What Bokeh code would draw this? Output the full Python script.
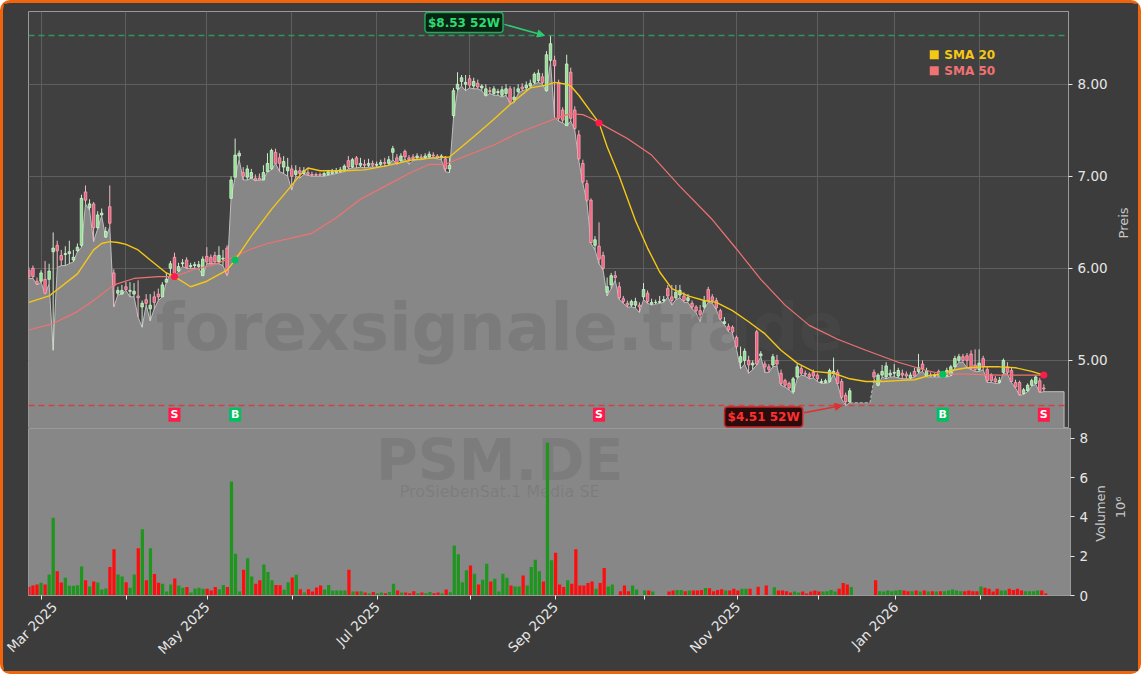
import math
import numpy as np
import pandas as pd
from bokeh.plotting import figure
from bokeh.layouts import column, row
from bokeh.models import (Range1d, FixedTicker, Span, Label, Arrow, NormalHead, Grid,
                          NumeralTickFormatter, ColumnDataSource)
from bokeh.core.properties import value
from bokeh.embed import file_html
from bokeh.resources import INLINE

# ---------------- data (trading-session index, 0 = 3 Mar 2025) ----------------
FIRST_SESSION = -3
N = None
opens = [5.98, 6.00, 5.86, 5.86, 5.88, 5.88, 6.18, 6.25, 6.14, 6.15,
         6.16, 6.09, 6.19, 6.25, 6.83, 6.66, 6.70, 6.44, 6.58, 6.34,
         6.67, 5.95, 5.73, 5.72, 5.80, 5.75, 5.72, 5.70, 5.58, 5.66,
         5.56, 5.69, 5.72, 5.69, 5.85, 6.00, 6.12, 5.97, 6.05, 6.09,
         6.02, 6.03, 6.02, 5.92, 6.13, 6.12, 6.14, 6.07, 6.10, 6.22,
         6.76, 6.99, 7.22, 7.04, 6.99, 6.98, 6.98, 6.98, 6.96, 7.05,
         7.08, 7.26, 7.20, 7.10, 7.06, 7.08, 7.02, 7.06, 7.03, 7.04,
         7.02, 7.02, 7.02, 7.01, 7.02, 7.03, 7.04, 7.05, 7.06, 7.17,
         7.10, 7.20, 7.12, 7.13, 7.12, 7.14, 7.12, 7.13, 7.15, 7.14,
         7.26, 7.20, 7.17, 7.27, 7.20, 7.21, 7.20, 7.21, 7.20, 7.21,
         7.23, 7.22, 7.20, 7.19, 7.08, 7.66, 7.95, 8.03, 8.00, 8.06,
         7.98, 8.01, 7.96, 7.88, 7.93, 7.90, 7.91, 7.88, 7.90, 7.95,
         7.83, 7.92, 7.97, 7.96, 7.98, 8.02, 8.04, 8.08, 7.93, 8.26,
         8.26, 8.02, 7.72, 7.55, 8.13, 7.72, 7.45, 7.14, 6.92, 6.74,
         6.25, 6.24, 6.14, 5.74, 5.82, 5.92, 5.80, 5.67, 5.62, 5.60,
         5.60, 5.60, 5.69, 5.73, 5.61, 5.63, 5.63, 5.65, 5.78, 5.69,
         5.68, 5.71, 5.70, 5.65, 5.62, 5.58, 5.54, 5.58, 5.77, 5.69,
         5.65, 5.54, 5.40, 5.37, 5.36, 5.25, 4.98, 5.00, 5.00, 4.95,
         5.31, 5.05, 4.96, 4.93, 4.95, 5.00, 4.86, 4.78, 4.75, 4.66,
         4.82, 4.91, 4.86, 4.85, 4.87, 4.84, 4.76, 4.76, 4.77, 4.86,
         4.87, 4.77, 4.62, 4.55, N, N, N, N, N, 4.87,
         4.73, 4.84, 4.82, 4.84, 4.86, 4.83, 4.86, 4.85, 4.81, 4.88,
         4.88, 4.96, 4.83, 4.84, 4.83, 4.88, 4.84, 4.83, 4.84, 4.93,
         5.00, 5.04, 5.05, 5.07, 4.95, 4.90, 5.02, 4.90, 4.84, 4.80,
         4.76, 4.87, 4.93, 4.89, 4.76, 4.76, 4.64, 4.67, 4.73, 4.75,
         4.78, 4.70, N, N, N, N, N]
highs = [6.01, 6.03, 5.90, 5.98, 6.08, 6.05, 6.39, 6.30, 6.20, 6.24,
         6.30, 6.20, 6.27, 6.80, 6.90, 6.75, 6.72, 6.62, 6.65, 6.45,
         6.90, 5.99, 5.80, 5.82, 5.85, 5.85, 5.84, 5.87, 5.65, 5.72,
         5.72, 5.75, 5.78, 5.85, 5.95, 6.08, 6.17, 6.06, 6.10, 6.12,
         6.06, 6.07, 6.08, 6.13, 6.23, 6.15, 6.18, 6.24, 6.20, 6.25,
         7.00, 7.41, 7.28, 7.10, 7.12, 7.08, 7.02, 7.03, 7.12, 7.25,
         7.30, 7.30, 7.25, 7.22, 7.20, 7.12, 7.12, 7.10, 7.10, 7.08,
         7.05, 7.04, 7.04, 7.05, 7.07, 7.08, 7.09, 7.10, 7.13, 7.22,
         7.20, 7.22, 7.20, 7.18, 7.19, 7.17, 7.16, 7.18, 7.20, 7.22,
         7.33, 7.24, 7.25, 7.29, 7.23, 7.24, 7.25, 7.24, 7.25, 7.27,
         7.26, 7.24, 7.24, 7.22, 7.20, 7.96, 8.13, 8.10, 8.10, 8.10,
         8.07, 8.05, 8.00, 8.00, 7.97, 7.98, 7.95, 7.98, 8.00, 7.98,
         7.97, 8.00, 8.01, 8.03, 8.05, 8.13, 8.16, 8.12, 8.36, 8.53,
         8.31, 8.05, 7.75, 8.32, 8.18, 7.76, 7.50, 7.18, 6.96, 6.76,
         6.35, 6.50, 6.18, 5.90, 5.95, 5.97, 5.85, 5.70, 5.65, 5.66,
         5.68, 5.63, 5.84, 5.76, 5.67, 5.66, 5.70, 5.70, 5.82, 5.82,
         5.82, 5.82, 5.74, 5.72, 5.65, 5.60, 5.60, 5.70, 5.80, 5.72,
         5.68, 5.56, 5.47, 5.40, 5.38, 5.27, 5.15, 5.13, 5.05, 5.00,
         5.33, 5.10, 4.99, 4.96, 5.07, 5.06, 4.90, 4.80, 4.77, 4.82,
         4.96, 4.94, 4.89, 4.87, 4.90, 4.86, 4.80, 4.80, 4.91, 5.03,
         4.90, 4.80, 4.65, 4.70, N, N, N, N, N, 4.90,
         4.86, 4.95, 4.98, 4.90, 4.96, 4.92, 4.90, 4.88, 4.87, 4.92,
         5.07, 5.00, 4.92, 4.87, 4.86, 4.90, 4.88, 4.92, 4.95, 5.05,
         5.07, 5.07, 5.08, 5.11, 5.12, 5.12, 5.05, 4.93, 4.86, 4.83,
         4.82, 5.02, 4.98, 4.92, 4.79, 4.78, 4.70, 4.75, 4.80, 4.84,
         4.81, 4.74, N, N, N, N, N]
lows = [5.89, 5.89, 5.82, 5.85, 5.72, 5.83, 5.11, 6.01, 6.03, 6.03,
        6.05, 6.07, 6.18, 6.23, 6.70, 6.63, 6.29, 6.43, 6.57, 6.33,
        6.45, 5.58, 5.71, 5.72, 5.76, 5.69, 5.69, 5.47, 5.36, 5.60,
        5.43, 5.56, 5.65, 5.69, 5.85, 5.94, 5.92, 5.96, 6.02, 6.00,
        6.00, 6.00, 6.00, 5.92, 6.05, 6.05, 6.05, 6.05, 6.03, 5.92,
        6.76, 6.99, 7.18, 6.96, 6.96, 6.98, 6.95, 6.96, 6.96, 7.05,
        7.07, 7.14, 7.05, 7.03, 7.00, 6.85, 7.00, 6.98, 7.02, 7.01,
        7.00, 7.00, 7.00, 7.00, 7.01, 7.02, 7.03, 7.04, 7.05, 7.08,
        7.09, 7.09, 7.10, 7.09, 7.10, 7.10, 7.10, 7.11, 7.11, 7.12,
        7.18, 7.13, 7.15, 7.19, 7.13, 7.17, 7.18, 7.18, 7.19, 7.20,
        7.20, 7.19, 7.18, 7.05, 7.04, 7.63, 7.93, 7.98, 7.93, 7.96,
        7.95, 7.95, 7.93, 7.87, 7.90, 7.88, 7.88, 7.86, 7.88, 7.79,
        7.80, 7.90, 7.93, 7.94, 7.96, 8.00, 8.02, 8.00, 7.92, 8.24,
        7.64, 7.60, 7.58, 7.55, 7.60, 7.50, 7.17, 6.92, 6.72, 6.27,
        6.20, 6.05, 5.98, 5.70, 5.78, 5.87, 5.66, 5.62, 5.58, 5.58,
        5.57, 5.52, 5.66, 5.62, 5.60, 5.61, 5.62, 5.63, 5.69, 5.60,
        5.66, 5.68, 5.63, 5.63, 5.56, 5.52, 5.42, 5.56, 5.63, 5.62,
        5.55, 5.44, 5.39, 5.31, 5.29, 5.12, 4.91, 4.96, 4.86, 4.90,
        4.95, 5.04, 4.87, 4.87, 4.93, 4.94, 4.73, 4.71, 4.68, 4.64,
        4.80, 4.84, 4.83, 4.80, 4.81, 4.77, 4.75, 4.75, 4.76, 4.85,
        4.74, 4.58, 4.51, 4.54, N, N, N, N, N, 4.80,
        4.72, 4.82, 4.80, 4.82, 4.82, 4.81, 4.80, 4.80, 4.80, 4.82,
        4.86, 4.88, 4.82, 4.82, 4.82, 4.82, 4.82, 4.82, 4.83, 4.92,
        4.98, 4.98, 4.92, 4.90, 4.88, 4.88, 4.90, 4.76, 4.76, 4.75,
        4.75, 4.86, 4.85, 4.76, 4.70, 4.62, 4.63, 4.66, 4.72, 4.74,
        4.65, 4.66, N, N, N, N, N]
closes = [5.91, 5.91, 5.83, 5.95, 5.73, 5.97, 6.22, 6.19, 6.09, 6.16,
          6.18, 6.12, 6.23, 6.76, 6.74, 6.70, 6.44, 6.58, 6.60, 6.40,
          6.49, 5.81, 5.76, 5.76, 5.77, 5.76, 5.75, 5.68, 5.62, 5.62,
          5.60, 5.63, 5.69, 5.82, 5.88, 6.05, 5.94, 6.02, 6.06, 6.01,
          6.03, 6.04, 6.04, 6.10, 6.07, 6.05, 6.07, 6.14, 6.11, 5.94,
          6.96, 7.23, 7.25, 7.00, 7.08, 7.04, 6.96, 6.96, 7.04, 7.14,
          7.28, 7.14, 7.14, 7.16, 7.10, 7.00, 7.06, 7.03, 7.06, 7.02,
          7.01, 7.01, 7.01, 7.03, 7.05, 7.05, 7.06, 7.07, 7.11, 7.10,
          7.18, 7.13, 7.14, 7.12, 7.14, 7.12, 7.13, 7.15, 7.14, 7.18,
          7.30, 7.15, 7.22, 7.21, 7.18, 7.19, 7.22, 7.20, 7.22, 7.24,
          7.22, 7.21, 7.22, 7.08, 7.12, 7.93, 8.00, 8.07, 8.02, 7.99,
          8.03, 7.97, 7.98, 7.95, 7.92, 7.95, 7.92, 7.94, 7.95, 7.81,
          7.86, 7.95, 7.95, 7.99, 8.01, 8.11, 8.12, 8.02, 8.32, 8.44,
          8.20, 7.63, 7.61, 8.22, 7.63, 7.52, 7.19, 6.94, 6.74, 6.28,
          6.31, 6.10, 6.00, 5.80, 5.92, 5.90, 5.68, 5.64, 5.60, 5.64,
          5.64, 5.58, 5.77, 5.64, 5.63, 5.63, 5.64, 5.66, 5.70, 5.65,
          5.74, 5.76, 5.65, 5.68, 5.58, 5.54, 5.50, 5.64, 5.65, 5.65,
          5.57, 5.45, 5.42, 5.33, 5.31, 5.15, 5.04, 5.10, 4.95, 4.97,
          4.96, 5.07, 4.93, 4.90, 5.04, 4.96, 4.75, 4.73, 4.70, 4.80,
          4.93, 4.86, 4.85, 4.82, 4.83, 4.80, 4.77, 4.78, 4.89, 4.88,
          4.75, 4.60, 4.55, 4.67, N, N, N, N, N, 4.82,
          4.84, 4.88, 4.94, 4.86, 4.87, 4.89, 4.84, 4.83, 4.84, 4.83,
          4.92, 4.91, 4.89, 4.83, 4.84, 4.83, 4.86, 4.89, 4.93, 5.02,
          5.04, 5.00, 5.00, 4.91, 4.90, 4.97, 4.93, 4.78, 4.78, 4.77,
          4.78, 5.00, 4.87, 4.77, 4.71, 4.63, 4.68, 4.73, 4.78, 4.82,
          4.66, 4.69, N, N, N, N, N]
volume_mio = [0.45, 0.51, 0.56, 0.65, 0.56, 1.07, 3.96, 1.24, 0.66, 0.90,
              0.50, 0.50, 0.52, 1.48, 0.77, 0.46, 0.71, 0.66, 0.30, 0.36,
              1.45, 2.35, 1.07, 0.97, 0.68, 0.39, 1.07, 2.40, 3.37, 0.77,
              2.40, 1.10, 0.65, 0.60, 0.20, 0.56, 0.87, 0.51, 0.39, 0.43,
              0.15, 0.36, 0.39, 0.34, 0.34, 0.26, 0.43, 0.32, 0.54, 0.43,
              5.80, 2.13, 0.20, 1.31, 1.89, 0.97, 0.60, 0.77, 1.58, 1.20,
              0.77, 0.54, 0.52, 0.29, 0.68, 0.92, 1.06, 0.32, 0.15, 0.32,
              0.20, 0.41, 0.51, 0.30, 0.53, 0.26, 0.26, 0.26, 0.26, 1.31,
              0.20, 0.20, 0.22, 0.15, 0.12, 0.18, 0.12, 0.15, 0.12, 0.18,
              0.60, 0.26, 0.15, 0.15, 0.12, 0.22, 0.12, 0.15, 0.12, 0.18,
              0.12, 0.15, 0.12, 0.30, 0.17, 2.55, 2.10, 0.68, 1.28, 1.53,
              1.11, 0.56, 0.80, 1.62, 0.71, 0.85, 0.20, 1.11, 0.90, 0.51,
              0.46, 0.46, 1.02, 0.51, 1.45, 1.82, 1.23, 0.71, 7.77, 1.79,
              2.18, 0.56, 0.43, 0.77, 0.60, 2.35, 0.51, 0.51, 0.63, 0.71,
              0.34, 0.63, 1.40, 0.46, 0.56, 0.00, 0.22, 0.51, 0.22, 0.51,
              0.30, 0.00, 0.25, 0.25, 0.20, 0.00, 0.00, 0.00, 0.20, 0.25,
              0.28, 0.28, 0.22, 0.25, 0.25, 0.25, 0.28, 0.38, 0.37, 0.22,
              0.28, 0.32, 0.25, 0.25, 0.34, 0.25, 0.34, 0.34, 0.34, 0.00,
              0.45, 0.00, 0.51, 0.00, 0.42, 0.25, 0.25, 0.22, 0.15, 0.20,
              0.15, 0.20, 0.10, 0.20, 0.25, 0.20, 0.20, 0.22, 0.28, 0.20,
              0.34, 0.64, 0.56, 0.43, N, N, N, N, N, 0.77,
              0.22, 0.20, 0.25, 0.22, 0.25, 0.28, 0.25, 0.22, 0.22, 0.25,
              0.20, 0.25, 0.20, 0.22, 0.20, 0.22, 0.22, 0.25, 0.30, 0.25,
              0.22, 0.22, 0.25, 0.22, 0.22, 0.46, 0.39, 0.34, 0.20, 0.34,
              0.25, 0.25, 0.34, 0.28, 0.34, 0.25, 0.22, 0.22, 0.22, 0.25,
              0.25, 0.10, N, N, N, N, N]

# moving averages (session index, value)
sma20_t = [-3, 2, 9, 13, 15, 17, 19, 21, 24, 27, 31, 33, 37, 41, 46, 48, 52, 57, 61, 64,
           66, 69, 75, 80, 85, 92, 97, 101, 107, 112, 116, 121, 125, 127, 130, 131, 133,
           136, 138, 140, 143, 147, 150, 153, 156, 160, 164, 167, 171, 175, 179, 183, 187,
           191, 196, 200, 204, 208, 212, 216, 220, 223, 225, 229, 233, 237, 241, 245, 248]
sma20_v = [5.63, 5.70, 5.94, 6.20, 6.27, 6.29, 6.28, 6.26, 6.20, 6.09, 5.95, 5.91, 5.80,
           5.86, 5.98, 6.09, 6.35, 6.64, 6.85, 7.01, 7.09, 7.06, 7.06, 7.07, 7.11, 7.18,
           7.20, 7.21, 7.43, 7.62, 7.78, 7.96, 7.99, 8.02, 8.00, 7.98, 7.88, 7.70, 7.58,
           7.32, 7.00, 6.52, 6.22, 5.96, 5.78, 5.70, 5.65, 5.63, 5.54, 5.42, 5.29, 5.11,
           4.97, 4.88, 4.86, 4.80, 4.77, 4.77, 4.78, 4.79, 4.84, 4.85, 4.89, 4.92, 4.93,
           4.93, 4.92, 4.88, 4.84]
sma50_t = [-3, 3, 9, 13, 18, 23, 29, 33, 38, 42, 47, 52, 56, 61, 67, 73, 79, 85, 91, 96,
           100, 105, 112, 118, 125, 128, 131, 134, 136, 138, 145, 151, 158, 166, 172, 178,
           184, 190, 197, 204, 212, 219, 223, 229, 237, 248]
sma50_v = [5.33, 5.40, 5.53, 5.65, 5.82, 5.89, 5.91, 5.91, 5.99, 6.03, 6.11, 6.21, 6.27,
           6.32, 6.38, 6.55, 6.75, 6.89, 7.03, 7.13, 7.13, 7.22, 7.34, 7.47, 7.59, 7.64,
           7.68, 7.67, 7.63, 7.58, 7.41, 7.23, 6.89, 6.53, 6.21, 5.88, 5.60, 5.38, 5.23,
           5.11, 4.98, 4.89, 4.85, 4.85, 4.84, 4.84]

# crossover signals
signal_t = [33, 48, 138, 223, 248]
signal_kind = ["S", "B", "S", "B", "S"]
signal_level = [5.91, 6.09, 7.58, 4.85, 4.84]

month_ticks = [0, 21, 41, 62, 83, 106, 127, 149, 172, 192, 211, 232]
month_labels = ["Mar 2025", "", "May 2025", "", "Jul 2025", "", "Sep 2025", "",
                "Nov 2025", "", "Jan 2026", ""]

ticker_symbol = "PSM.DE"
company_name = "ProSiebenSat.1 Media SE"
watermark = "forexsignale.trade"

# ---------------- derived ----------------
def arr(v):
    return np.array([np.nan if x is None else x for x in v], dtype=float)

o, h, l, c, vol = arr(opens), arr(highs), arr(lows), arr(closes), arr(volume_mio)
t = np.arange(FIRST_SESSION, FIRST_SESSION + len(c))
up = c >= o
hi52 = np.nanmax(h); hi_t = int(t[np.nanargmax(h)])
lo52 = np.nanmin(l); lo_t = int(t[np.nanargmin(l)])
low_ff = pd.Series(l).ffill().values

# interior gaps (no session data) are drawn with a dashed edge
missing = np.isnan(c)
last_valid = int(np.where(~missing)[0].max())
gap_pos = [i for i in range(len(c)) if missing[i] and i < last_valid]
edge_solid = low_ff.copy()
edge_solid[gap_pos] = np.nan

GREEN_BODY, GREEN_EDGE, GREEN_WICK = "#8fe08f", "#d4f5d4", "#cfe8cf"
RED_BODY, RED_EDGE, RED_WICK = "#f0607f", "#f7a8b8", "#f0b8c4"
BG = "#3c3c3c"
FACE = "#404040"
AREA = "#878787"
EDGE = "#bdbdbd"
FONT = "DejaVu Sans"
LABEL_COL = "#c8c8c8"

candles = ColumnDataSource(dict(
    t=t, h=h, l=l,
    top=np.fmax(o, c), bot=np.fmin(o, c),
    body=np.where(up, GREEN_BODY, RED_BODY),
    edge=np.where(up, GREEN_EDGE, RED_EDGE),
    wick=np.where(up, GREEN_WICK, RED_WICK),
))
vols = ColumnDataSource(dict(t=t, v=vol, col=np.where(up, "#1e961e", "#ff0d0d")))

X0, X1 = -3.1, 254.1
P_LO, P_HI = 4.26, 8.79
V_LO, V_HI = 0, 8.5
INNER_W = 1135
ML = 25
H1, H2 = 425, 243
W1, MR1 = 1107, 40      # price panel: frame ends 1067 px into the row
W2, MR2 = 1089, 22      # volume panel: same frame edge


def side_strip(width, height):
    """Narrow strip right of a panel that carries the rotated axis titles."""
    s = figure(width=width, height=height, x_range=Range1d(0, 1), y_range=Range1d(0, 1),
               toolbar_location=None, output_backend="svg", x_axis_location=None,
               y_axis_location=None, min_border=0)
    s.min_border_left = s.min_border_right = s.min_border_top = s.min_border_bottom = 0
    s.background_fill_color = BG
    s.border_fill_color = BG
    s.outline_line_color = None
    s.grid.visible = False
    return s


# ---------------- price panel ----------------
p1 = figure(width=W1, height=H1, x_range=Range1d(X0, X1), y_range=Range1d(P_LO, P_HI),
            toolbar_location=None, output_backend="svg", x_axis_location=None,
            y_axis_location="right", min_border_left=ML, min_border_right=MR1,
            min_border_top=8, min_border_bottom=0)
p1.background_fill_color = FACE
p1.border_fill_color = BG
p1.outline_line_color = "#9a9a9a"
p1.outline_line_width = 1
p1.grid.visible = False
p1.add_layout(Grid(dimension=0, ticker=FixedTicker(ticks=month_ticks),
                   grid_line_color="#5e5e5e", grid_line_width=1))
p1.add_layout(Grid(dimension=1, ticker=FixedTicker(ticks=[5, 6, 7, 8]),
                   grid_line_color="#5e5e5e", grid_line_width=1))
ya = p1.yaxis[0]
ya.ticker = FixedTicker(ticks=[5, 6, 7, 8])
ya.formatter = NumeralTickFormatter(format="0.00")

# area under the lows
xs = list(t) + [t[-1], t[0]]
ys = list(low_ff) + [0.0, 0.0]
p1.patch(xs, ys, fill_color=AREA, line_color=None)
p1.line(t, edge_solid, line_color=EDGE, line_width=1)
p1.segment(x0=[t[-1]], y0=[low_ff[-1]], x1=[t[-1]], y1=[0.0], line_color=EDGE, line_width=1)
if gap_pos:
    g0, g1 = gap_pos[0] - 1, gap_pos[-1] + 1
    p1.line(t[g0:g1 + 1], low_ff[g0:g1 + 1], line_color=EDGE, line_width=1,
            line_dash="3 2")

p1.text(x=[113.4], y=[5.36], text=[watermark], text_font=value(FONT),
        text_font_style="bold", text_font_size="66px", text_color="#585858",
        text_alpha=0.24, text_align="center", text_baseline="middle")

p1.add_layout(Span(location=hi52, dimension="width", line_color="#2f9e5c",
                   line_dash="6 4", line_width=1.5, line_alpha=0.9))
p1.add_layout(Span(location=lo52, dimension="width", line_color="#d93a3a",
                   line_dash="6 4", line_width=1.5, line_alpha=0.9))

p1.segment(x0="t", y0="h", x1="t", y1="l", line_color="wick", line_width=1, source=candles)
p1.vbar(x="t", top="top", bottom="bot", width=0.62, fill_color="body",
        line_color="edge", line_width=0.8, source=candles)

p1.line(sma50_t, sma50_v, line_color="#f07272", line_width=1.2)
p1.line(sma20_t, sma20_v, line_color="#f5c816", line_width=1.4)

sig_col = ["#ff1a4a" if k == "S" else "#00c060" for k in signal_kind]
p1.scatter(signal_t, signal_level, marker="circle", size=7, fill_color=sig_col,
           line_color=None)
sig_y = [lo52 - 0.1] * len(signal_t)
p1.rect(signal_t, sig_y, width=12, height=14, width_units="screen",
        height_units="screen", fill_color=sig_col, line_color=None)
p1.text(signal_t, sig_y, text=signal_kind, text_font=value(FONT), text_font_style="bold",
        text_font_size="11px", text_color="white", text_align="center",
        text_baseline="middle")

# 52W annotations
p1.add_layout(Arrow(x_start=hi_t - 11.4, y_start=hi52 + 0.12, x_end=hi_t - 1.5, y_end=hi52,
                    line_color="#2ecc71", line_width=1.5,
                    end=NormalHead(size=7, fill_color="#2ecc71", line_color="#2ecc71")))
p1.add_layout(Label(x=hi_t - 21.4, y=hi52 + 0.14, text=f"${hi52:.2f} 52W",
                    text_font=FONT, text_font_style="bold", text_font_size="12px",
                    text_color="#2edb72", text_align="center", text_baseline="middle",
                    background_fill_color="#0a2414", border_line_color="#23a85c",
                    border_line_width=1.5, padding=3, border_radius=3))
p1.add_layout(Arrow(x_start=lo_t - 10.3, y_start=lo52 - 0.08, x_end=lo_t - 0.9, y_end=lo52,
                    line_color="#e03030", line_width=1.5,
                    end=NormalHead(size=7, fill_color="#e03030", line_color="#e03030")))
p1.add_layout(Label(x=lo_t - 20.3, y=lo52 - 0.125, text=f"${lo52:.2f} 52W",
                    text_font=FONT, text_font_style="bold", text_font_size="12px",
                    text_color="#ff3030", text_align="center", text_baseline="middle",
                    background_fill_color="#2a0c0c", border_line_color="#c82424",
                    border_line_width=1.5, padding=3, border_radius=3))

# legend
leg_names = ["SMA 20", "SMA 50"]
leg_cols = ["#f5c816", "#f07272"]
leg_y = [8.32, 8.145]
p1.scatter([220.9, 220.9], leg_y, marker="square", size=9, fill_color=leg_cols,
           line_color=None)
p1.text([223.4, 223.4], leg_y, text=leg_names, text_font=value(FONT),
        text_font_style="bold", text_font_size="12px", text_color=leg_cols,
        text_align="left", text_baseline="middle")

# the strip's frame is aligned with the price frame by the row layout
q1 = side_strip(INNER_W - W1, H1)
q1.text(x=[0.45], y=[0.493], text=["Preis"], angle=math.pi / 2, text_font=value(FONT),
        text_font_size="13px", text_color=LABEL_COL, text_align="center",
        text_baseline="middle")

# ---------------- volume panel ----------------
p2 = figure(width=W2, height=H2, x_range=p1.x_range, y_range=Range1d(V_LO, V_HI),
            toolbar_location=None, output_backend="svg", y_axis_location="right",
            min_border_left=ML, min_border_right=MR2, min_border_top=0, min_border_bottom=76)
p2.background_fill_color = AREA
p2.border_fill_color = BG
p2.outline_line_color = "#9a9a9a"
p2.grid.visible = False
p2.text(x=[113.2], y=[6.9], text=[ticker_symbol], text_font=value(FONT),
        text_font_style="bold", text_font_size="57px", text_color="#585858",
        text_alpha=0.22, text_align="center", text_baseline="middle")
p2.text(x=[113.2], y=[5.3], text=[company_name], text_font=value(FONT),
        text_font_size="16px", text_color="#585858", text_alpha=0.22,
        text_align="center", text_baseline="middle")
p2.vbar(x="t", top="v", width=0.8, fill_color="col", line_color=None, source=vols)

xa = p2.xaxis[0]
xa.ticker = FixedTicker(ticks=month_ticks)
xa.major_label_overrides = {int(k): s for k, s in zip(month_ticks, month_labels)}
xa.major_label_orientation = math.pi / 4
va = p2.yaxis[0]
va.ticker = FixedTicker(ticks=[0, 2, 4, 6, 8])

# the strip's frame is aligned with the volume frame by the row layout
q2 = side_strip(INNER_W - W2, H2)
q2.text(x=[0.17, 0.61], y=[0.491, 0.527], text=["Volumen", "10⁶"], angle=math.pi / 2,
        text_font=value(FONT), text_font_size="13px", text_color=LABEL_COL,
        text_align="center", text_baseline="middle")

for ax in (ya, va, xa):
    ax.axis_line_color = "#9a9a9a"
    ax.major_tick_line_color = "#e6e6e6"
    ax.major_tick_out = 4
    ax.major_tick_in = 0
    ax.minor_tick_line_color = None
    ax.major_label_text_font = FONT
    ax.major_label_text_font_size = "13.5px"
    ax.major_label_text_color = "#e6e6e6"
    ax.major_label_standoff = 5

layout = column(row(p1, q1, spacing=0), row(p2, q2, spacing=0), spacing=0,
                styles={"border": "3px solid #f0640c", "border-radius": "10px",
                        "background-color": BG})
open("out.html", "w").write(file_html(layout, INLINE))
